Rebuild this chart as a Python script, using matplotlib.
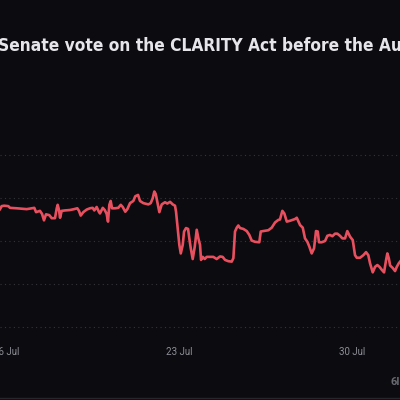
import pandas as pd
import matplotlib.pyplot as plt
import matplotlib.dates as mdates

# Dados: horas desde 16 Jul 00:00 e probabilidade (%)
horas = [-5.8, -4.2, -1.9, 2.2, 3.9, 10.4, 20.1, 25.0, 27.5, 29.2, 33.0, 35.0, 36.9, 38.9,
         42.1, 44.4, 47.6, 49.3, 50.2, 51.5, 52.5, 54.1, 57.3, 62.2, 66.1, 69.3, 70.9, 72.6,
         75.1, 78.4, 81.6, 84.2, 85.8, 88.1, 90.4, 91.3, 94.0, 95.9, 97.8, 99.1, 100.4, 101.7,
         103.0, 105.9, 109.1, 111.5, 113.4, 115.9, 117.9, 120.5, 123.7, 125.6, 128.3, 130.2,
         133.4, 138.3, 140.6, 142.5, 144.1, 145.5, 147.0, 149.0, 151.3, 154.5, 156.7, 159.4,
         162.0, 164.2, 165.2, 166.5, 168.4, 169.8, 171.7, 173.0, 174.9, 176.9, 178.1, 179.5,
         181.4, 183.4, 185.3, 186.9, 188.5, 189.5, 191.1, 193.1, 195.0, 198.2, 201.4, 204.7,
         207.9, 210.5, 212.8, 216.0, 219.3, 220.9, 222.5, 224.2, 225.7, 227.4, 230.6, 233.9,
         236.4, 238.7, 242.0, 246.1, 247.5, 250.0, 254.9, 258.2, 261.4, 264.6, 266.2, 268.5,
         270.4, 272.8, 276.0, 280.8, 282.5, 285.7, 288.3, 290.5, 292.8, 294.7, 297.0, 299.3,
         301.2, 302.9, 304.1, 306.7, 310.0, 312.2, 314.8, 317.1, 319.7, 321.9, 324.5, 326.8,
         329.4, 331.6, 334.3, 336.9, 339.1, 340.8, 344.0, 347.2, 349.8, 352.0, 353.7, 356.3,
         358.6, 360.8, 362.8, 365.1, 367.3, 369.3, 370.5, 371.9, 373.2, 375.8, 378.0, 379.7,
         381.6, 382.9]
prob = [27.4, 28.1, 28.2, 28.1, 27.7, 27.6, 27.4, 27.6, 27.7, 26.7, 27.0, 26.3, 24.8, 26.2,
        26.0, 25.3, 25.3, 27.6, 28.4, 27.2, 25.4, 27.0, 27.1, 27.2, 27.4, 27.6, 27.0, 25.9,
        26.7, 27.3, 27.6, 27.7, 27.1, 27.9, 26.7, 26.4, 27.7, 27.2, 26.3, 24.5, 28.4, 29.3,
        27.6, 27.6, 27.7, 28.4, 27.9, 26.8, 27.4, 28.8, 29.3, 30.4, 30.7, 29.3,
        28.8, 28.5, 28.8, 29.9, 31.5, 30.9, 29.1, 26.7, 28.5, 29.0, 28.7, 29.1,
        28.5, 28.2, 26.8, 23.7, 19.1, 17.1, 19.1, 22.2, 23.0, 22.8, 20.6, 18.3,
        15.8, 18.7, 22.6, 20.6, 19.1, 15.6, 16.3, 15.8, 16.3, 16.3, 16.3, 15.8,
        16.4, 16.3, 15.6, 15.3, 15.2, 16.0, 22.2, 23.1, 23.6, 23.0, 22.8, 22.3,
        21.4, 20.1, 19.8, 19.7, 22.2, 22.3, 22.5, 23.1, 24.3, 24.9, 25.0, 27.0,
        26.4, 24.5, 24.7, 25.1, 25.4, 23.7, 23.1, 20.6, 19.8, 18.7, 17.1, 18.3,
        22.3, 22.2, 19.7, 19.7, 20.0, 21.2, 21.4, 21.1, 21.7, 21.7, 21.2, 20.6,
        20.6, 22.3, 21.0, 20.2, 16.7, 16.1, 16.1, 16.7, 17.4, 16.7, 14.8, 12.7,
        14.0, 14.4, 14.0, 13.3, 12.7, 15.6, 17.1, 16.0, 14.3, 13.7, 13.0, 14.0,
        14.8, 15.2]

inicio = pd.Timestamp('2025-07-16')
datas = inicio + pd.to_timedelta(horas, unit='h')
ticks_x = pd.to_datetime(['2025-07-16', '2025-07-23', '2025-07-30'])
ticks_y = [0, 10, 20, 30, 40]

fundo = '#0b0b10'
fig = plt.figure(figsize=(4, 4), dpi=100, facecolor=fundo)
ax = fig.add_axes([0, 0.175, 1, 0.5])
ax.set_facecolor(fundo)

ax.plot(datas, prob, color='#e8505f', linewidth=1.9, solid_joinstyle='round')

ax.set_xlim(inicio + pd.Timedelta(hours=-5.83), inicio + pd.Timedelta(hours=382.8))
ax.set_ylim(-0.7, 45.8)
ax.set_yticks(ticks_y)
ax.set_xticks(ticks_x)
ax.xaxis.set_major_formatter(mdates.DateFormatter('%-d %b'))
ax.grid(axis='y', color='#34343b', linestyle=(0, (1, 3)), linewidth=0.8)
ax.tick_params(axis='y', left=False, labelleft=False)
ax.tick_params(axis='x', length=0, pad=12, colors='#8e8e96', labelsize=7)
for lab in ax.get_xticklabels():
    lab.set_fontfamily('Roboto')
for s in ax.spines.values():
    s.set_visible(False)

# Título (cortado à esquerda e à direita como na imagem)
fig.text(-0.006, 0.885, 'Senate vote on the CLARITY Act before the August recess?',
         color='#e6e6ea', fontsize=12.4, fontfamily='DejaVu Sans', fontstretch='condensed',
         fontweight='bold', ha='left', va='center')
fig.text(0.977, 0.045, '6I', color='#6a6a72', fontsize=8, fontweight='bold',
         fontfamily='Roboto', ha='left', va='center')
fig.add_artist(plt.Line2D([0, 1], [0.006, 0.006], color='#26262c', linewidth=1))

plt.savefig('out.png', dpi=100, facecolor=fundo)
